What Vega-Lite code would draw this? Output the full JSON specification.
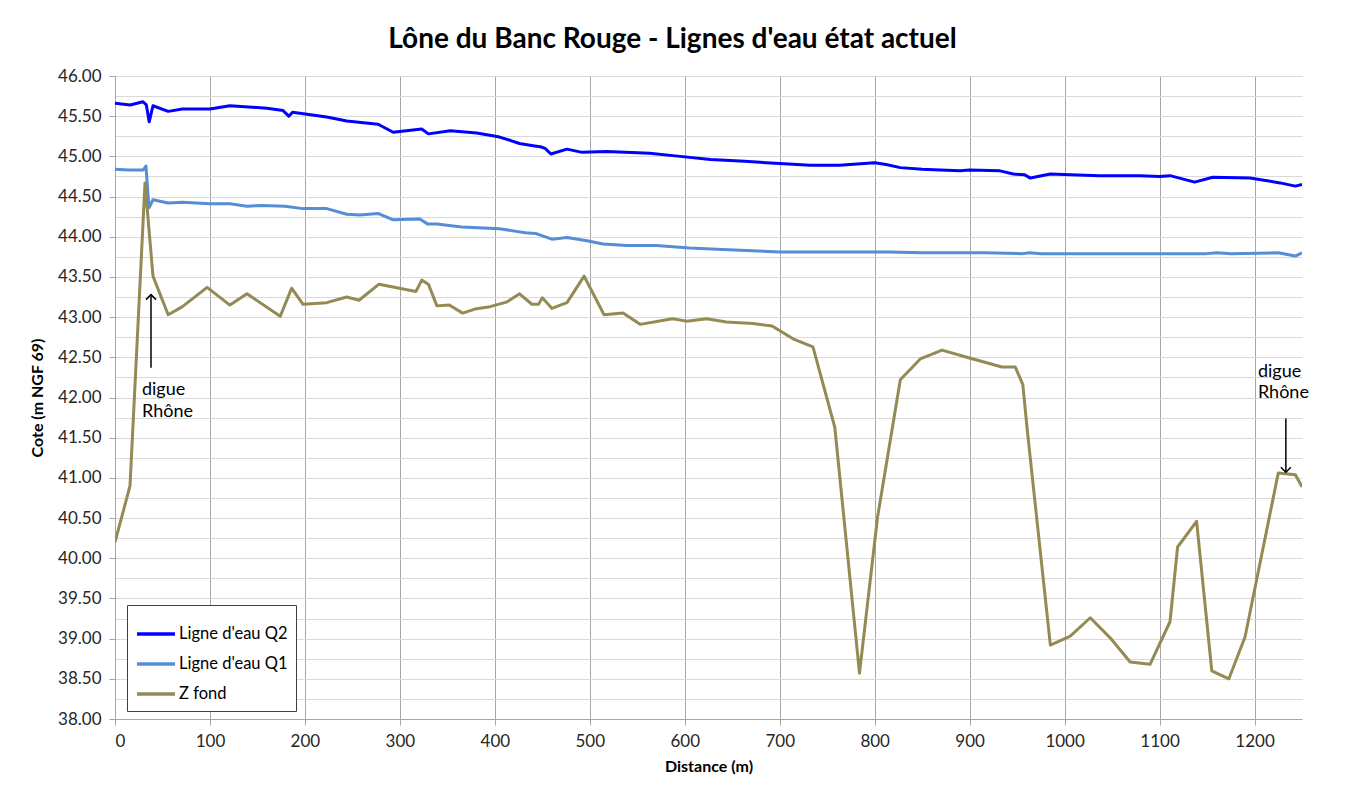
{
  "$schema": "https://vega.github.io/schema/vega-lite/v6.json",
  "width": 1187,
  "height": 643,
  "autosize": {"type": "none"},
  "padding": {"left": 115, "top": 76, "right": 45, "bottom": 75},
  "background": "white",
  "title": {
    "text": "Lône du Banc Rouge - Lignes d'eau état actuel",
    "font": "Lato",
    "fontSize": 28,
    "fontWeight": "bold",
    "color": "#000000",
    "anchor": "middle",
    "dx": -36,
    "offset": 13
  },
  "config": {
    "view": {"stroke": null},
    "font": "Lato",
    "axis": {
      "labelFont": "Lato",
      "labelFontSize": 17,
      "labelColor": "#262626",
      "titleFont": "Lato",
      "titleFontSize": 16,
      "titleFontWeight": "bold",
      "titleColor": "#000000",
      "domainColor": "#a6a6a6",
      "tickColor": "#a6a6a6",
      "tickSize": 6,
      "tickWidth": 1,
      "domainWidth": 1
    },
    "legend": {
      "orient": "none",
      "legendX": 12,
      "legendY": 529,
      "direction": "vertical",
      "strokeColor": "#404040",
      "fillColor": "white",
      "padding": 8,
      "symbolType": "stroke",
      "symbolStrokeWidth": 3.5,
      "symbolSize": 1444,
      "labelFont": "Lato",
      "labelFontSize": 16.5,
      "labelColor": "#000000",
      "labelOffset": 2,
      "rowPadding": 0,
      "titleFontSize": 0
    }
  },
  "datasets": {
    "lines": [
      {"serie": "Ligne d'eau Q2", "d": 0, "z": 45.66},
      {"serie": "Ligne d'eau Q2", "d": 16, "z": 45.64},
      {"serie": "Ligne d'eau Q2", "d": 29.5, "z": 45.68},
      {"serie": "Ligne d'eau Q2", "d": 33, "z": 45.64},
      {"serie": "Ligne d'eau Q2", "d": 36, "z": 45.43},
      {"serie": "Ligne d'eau Q2", "d": 40, "z": 45.63},
      {"serie": "Ligne d'eau Q2", "d": 56, "z": 45.56},
      {"serie": "Ligne d'eau Q2", "d": 71, "z": 45.59},
      {"serie": "Ligne d'eau Q2", "d": 100, "z": 45.59},
      {"serie": "Ligne d'eau Q2", "d": 121, "z": 45.63},
      {"serie": "Ligne d'eau Q2", "d": 160, "z": 45.60},
      {"serie": "Ligne d'eau Q2", "d": 177, "z": 45.57},
      {"serie": "Ligne d'eau Q2", "d": 183, "z": 45.50},
      {"serie": "Ligne d'eau Q2", "d": 187, "z": 45.55},
      {"serie": "Ligne d'eau Q2", "d": 223, "z": 45.49},
      {"serie": "Ligne d'eau Q2", "d": 244, "z": 45.44},
      {"serie": "Ligne d'eau Q2", "d": 277, "z": 45.40},
      {"serie": "Ligne d'eau Q2", "d": 293, "z": 45.30},
      {"serie": "Ligne d'eau Q2", "d": 323, "z": 45.34},
      {"serie": "Ligne d'eau Q2", "d": 330, "z": 45.28},
      {"serie": "Ligne d'eau Q2", "d": 353, "z": 45.32},
      {"serie": "Ligne d'eau Q2", "d": 381, "z": 45.29},
      {"serie": "Ligne d'eau Q2", "d": 405, "z": 45.24},
      {"serie": "Ligne d'eau Q2", "d": 416, "z": 45.20},
      {"serie": "Ligne d'eau Q2", "d": 426, "z": 45.16},
      {"serie": "Ligne d'eau Q2", "d": 442, "z": 45.13},
      {"serie": "Ligne d'eau Q2", "d": 448, "z": 45.12},
      {"serie": "Ligne d'eau Q2", "d": 453, "z": 45.10},
      {"serie": "Ligne d'eau Q2", "d": 459, "z": 45.03},
      {"serie": "Ligne d'eau Q2", "d": 476, "z": 45.09},
      {"serie": "Ligne d'eau Q2", "d": 492, "z": 45.05},
      {"serie": "Ligne d'eau Q2", "d": 518, "z": 45.06},
      {"serie": "Ligne d'eau Q2", "d": 563, "z": 45.04},
      {"serie": "Ligne d'eau Q2", "d": 595, "z": 45.00},
      {"serie": "Ligne d'eau Q2", "d": 627, "z": 44.96},
      {"serie": "Ligne d'eau Q2", "d": 663, "z": 44.94},
      {"serie": "Ligne d'eau Q2", "d": 700, "z": 44.91},
      {"serie": "Ligne d'eau Q2", "d": 732, "z": 44.89},
      {"serie": "Ligne d'eau Q2", "d": 763, "z": 44.89},
      {"serie": "Ligne d'eau Q2", "d": 800, "z": 44.92},
      {"serie": "Ligne d'eau Q2", "d": 812, "z": 44.90},
      {"serie": "Ligne d'eau Q2", "d": 827, "z": 44.86},
      {"serie": "Ligne d'eau Q2", "d": 850, "z": 44.84},
      {"serie": "Ligne d'eau Q2", "d": 869, "z": 44.83},
      {"serie": "Ligne d'eau Q2", "d": 890, "z": 44.82},
      {"serie": "Ligne d'eau Q2", "d": 900, "z": 44.83},
      {"serie": "Ligne d'eau Q2", "d": 932, "z": 44.82},
      {"serie": "Ligne d'eau Q2", "d": 946, "z": 44.78},
      {"serie": "Ligne d'eau Q2", "d": 958, "z": 44.77},
      {"serie": "Ligne d'eau Q2", "d": 964, "z": 44.73},
      {"serie": "Ligne d'eau Q2", "d": 985, "z": 44.78},
      {"serie": "Ligne d'eau Q2", "d": 1006, "z": 44.77},
      {"serie": "Ligne d'eau Q2", "d": 1037, "z": 44.76},
      {"serie": "Ligne d'eau Q2", "d": 1079, "z": 44.76},
      {"serie": "Ligne d'eau Q2", "d": 1100, "z": 44.75},
      {"serie": "Ligne d'eau Q2", "d": 1111, "z": 44.76},
      {"serie": "Ligne d'eau Q2", "d": 1137, "z": 44.68},
      {"serie": "Ligne d'eau Q2", "d": 1156, "z": 44.74},
      {"serie": "Ligne d'eau Q2", "d": 1195, "z": 44.73},
      {"serie": "Ligne d'eau Q2", "d": 1227, "z": 44.67},
      {"serie": "Ligne d'eau Q2", "d": 1243, "z": 44.63},
      {"serie": "Ligne d'eau Q2", "d": 1250, "z": 44.65},

      {"serie": "Ligne d'eau Q1", "d": 0, "z": 44.84},
      {"serie": "Ligne d'eau Q1", "d": 14, "z": 44.83},
      {"serie": "Ligne d'eau Q1", "d": 29.5, "z": 44.83},
      {"serie": "Ligne d'eau Q1", "d": 32.6, "z": 44.88},
      {"serie": "Ligne d'eau Q1", "d": 35.8, "z": 44.36},
      {"serie": "Ligne d'eau Q1", "d": 40, "z": 44.46},
      {"serie": "Ligne d'eau Q1", "d": 56, "z": 44.42},
      {"serie": "Ligne d'eau Q1", "d": 71, "z": 44.43},
      {"serie": "Ligne d'eau Q1", "d": 100, "z": 44.41},
      {"serie": "Ligne d'eau Q1", "d": 121, "z": 44.41},
      {"serie": "Ligne d'eau Q1", "d": 139, "z": 44.38},
      {"serie": "Ligne d'eau Q1", "d": 156, "z": 44.39},
      {"serie": "Ligne d'eau Q1", "d": 179, "z": 44.38},
      {"serie": "Ligne d'eau Q1", "d": 198, "z": 44.35},
      {"serie": "Ligne d'eau Q1", "d": 223, "z": 44.35},
      {"serie": "Ligne d'eau Q1", "d": 244, "z": 44.28},
      {"serie": "Ligne d'eau Q1", "d": 258, "z": 44.27},
      {"serie": "Ligne d'eau Q1", "d": 277, "z": 44.29},
      {"serie": "Ligne d'eau Q1", "d": 293, "z": 44.21},
      {"serie": "Ligne d'eau Q1", "d": 321, "z": 44.22},
      {"serie": "Ligne d'eau Q1", "d": 329, "z": 44.16},
      {"serie": "Ligne d'eau Q1", "d": 339, "z": 44.16},
      {"serie": "Ligne d'eau Q1", "d": 365, "z": 44.12},
      {"serie": "Ligne d'eau Q1", "d": 405, "z": 44.10},
      {"serie": "Ligne d'eau Q1", "d": 421, "z": 44.07},
      {"serie": "Ligne d'eau Q1", "d": 432, "z": 44.05},
      {"serie": "Ligne d'eau Q1", "d": 443, "z": 44.04},
      {"serie": "Ligne d'eau Q1", "d": 448, "z": 44.02},
      {"serie": "Ligne d'eau Q1", "d": 460, "z": 43.97},
      {"serie": "Ligne d'eau Q1", "d": 476, "z": 43.99},
      {"serie": "Ligne d'eau Q1", "d": 497, "z": 43.95},
      {"serie": "Ligne d'eau Q1", "d": 514, "z": 43.91},
      {"serie": "Ligne d'eau Q1", "d": 539, "z": 43.89},
      {"serie": "Ligne d'eau Q1", "d": 570, "z": 43.89},
      {"serie": "Ligne d'eau Q1", "d": 605, "z": 43.86},
      {"serie": "Ligne d'eau Q1", "d": 640, "z": 43.84},
      {"serie": "Ligne d'eau Q1", "d": 700, "z": 43.81},
      {"serie": "Ligne d'eau Q1", "d": 815, "z": 43.81},
      {"serie": "Ligne d'eau Q1", "d": 850, "z": 43.80},
      {"serie": "Ligne d'eau Q1", "d": 915, "z": 43.80},
      {"serie": "Ligne d'eau Q1", "d": 956, "z": 43.79},
      {"serie": "Ligne d'eau Q1", "d": 963, "z": 43.80},
      {"serie": "Ligne d'eau Q1", "d": 975, "z": 43.79},
      {"serie": "Ligne d'eau Q1", "d": 1100, "z": 43.79},
      {"serie": "Ligne d'eau Q1", "d": 1150, "z": 43.79},
      {"serie": "Ligne d'eau Q1", "d": 1160, "z": 43.80},
      {"serie": "Ligne d'eau Q1", "d": 1175, "z": 43.79},
      {"serie": "Ligne d'eau Q1", "d": 1225, "z": 43.80},
      {"serie": "Ligne d'eau Q1", "d": 1243, "z": 43.76},
      {"serie": "Ligne d'eau Q1", "d": 1250, "z": 43.80},

      {"serie": "Z fond", "d": 0, "z": 40.20},
      {"serie": "Z fond", "d": 15.8, "z": 40.90},
      {"serie": "Z fond", "d": 31.6, "z": 44.67},
      {"serie": "Z fond", "d": 40, "z": 43.51},
      {"serie": "Z fond", "d": 56, "z": 43.03},
      {"serie": "Z fond", "d": 71, "z": 43.13},
      {"serie": "Z fond", "d": 97, "z": 43.37},
      {"serie": "Z fond", "d": 121, "z": 43.15},
      {"serie": "Z fond", "d": 139, "z": 43.29},
      {"serie": "Z fond", "d": 174, "z": 43.01},
      {"serie": "Z fond", "d": 186, "z": 43.36},
      {"serie": "Z fond", "d": 198, "z": 43.16},
      {"serie": "Z fond", "d": 223, "z": 43.18},
      {"serie": "Z fond", "d": 244, "z": 43.25},
      {"serie": "Z fond", "d": 257, "z": 43.21},
      {"serie": "Z fond", "d": 278, "z": 43.41},
      {"serie": "Z fond", "d": 317, "z": 43.32},
      {"serie": "Z fond", "d": 323, "z": 43.46},
      {"serie": "Z fond", "d": 330, "z": 43.41},
      {"serie": "Z fond", "d": 339, "z": 43.14},
      {"serie": "Z fond", "d": 352, "z": 43.15},
      {"serie": "Z fond", "d": 366, "z": 43.05},
      {"serie": "Z fond", "d": 379, "z": 43.10},
      {"serie": "Z fond", "d": 395, "z": 43.13},
      {"serie": "Z fond", "d": 413, "z": 43.19},
      {"serie": "Z fond", "d": 426, "z": 43.29},
      {"serie": "Z fond", "d": 439, "z": 43.16},
      {"serie": "Z fond", "d": 446, "z": 43.16},
      {"serie": "Z fond", "d": 450, "z": 43.24},
      {"serie": "Z fond", "d": 460, "z": 43.11},
      {"serie": "Z fond", "d": 476, "z": 43.18},
      {"serie": "Z fond", "d": 494, "z": 43.51},
      {"serie": "Z fond", "d": 515, "z": 43.03},
      {"serie": "Z fond", "d": 535, "z": 43.05},
      {"serie": "Z fond", "d": 553, "z": 42.91},
      {"serie": "Z fond", "d": 587, "z": 42.98},
      {"serie": "Z fond", "d": 602, "z": 42.95},
      {"serie": "Z fond", "d": 623, "z": 42.98},
      {"serie": "Z fond", "d": 644, "z": 42.94},
      {"serie": "Z fond", "d": 672, "z": 42.92},
      {"serie": "Z fond", "d": 692, "z": 42.89},
      {"serie": "Z fond", "d": 714, "z": 42.73},
      {"serie": "Z fond", "d": 735, "z": 42.63},
      {"serie": "Z fond", "d": 758, "z": 41.63},
      {"serie": "Z fond", "d": 784, "z": 38.57},
      {"serie": "Z fond", "d": 803, "z": 40.51},
      {"serie": "Z fond", "d": 827, "z": 42.22},
      {"serie": "Z fond", "d": 848, "z": 42.48},
      {"serie": "Z fond", "d": 871, "z": 42.59},
      {"serie": "Z fond", "d": 897, "z": 42.50},
      {"serie": "Z fond", "d": 934, "z": 42.38},
      {"serie": "Z fond", "d": 948, "z": 42.38},
      {"serie": "Z fond", "d": 956, "z": 42.16},
      {"serie": "Z fond", "d": 961, "z": 41.56},
      {"serie": "Z fond", "d": 985, "z": 38.92},
      {"serie": "Z fond", "d": 1006, "z": 39.03},
      {"serie": "Z fond", "d": 1027, "z": 39.26},
      {"serie": "Z fond", "d": 1048, "z": 39.01},
      {"serie": "Z fond", "d": 1069, "z": 38.71},
      {"serie": "Z fond", "d": 1090, "z": 38.68},
      {"serie": "Z fond", "d": 1111, "z": 39.21},
      {"serie": "Z fond", "d": 1119, "z": 40.14},
      {"serie": "Z fond", "d": 1139, "z": 40.46},
      {"serie": "Z fond", "d": 1155, "z": 38.60},
      {"serie": "Z fond", "d": 1173, "z": 38.50},
      {"serie": "Z fond", "d": 1190, "z": 39.02},
      {"serie": "Z fond", "d": 1225, "z": 41.06},
      {"serie": "Z fond", "d": 1243, "z": 41.04},
      {"serie": "Z fond", "d": 1250, "z": 40.89}
    ],
    "arrows": [
      {"d": 37.9, "z": 42.37, "z2": 43.28, "dir": "up"},
      {"d": 1233, "z": 41.74, "z2": 41.07, "dir": "down"}
    ],
    "labels": [
      {"d": 28.4, "z": 42.09, "label": "digue"},
      {"d": 28.4, "z": 41.82, "label": "Rhône"},
      {"d": 1203.6, "z": 42.32, "label": "digue"},
      {"d": 1203.6, "z": 42.06, "label": "Rhône"}
    ]
  },
  "encoding": {
    "x": {
      "field": "d",
      "type": "quantitative",
      "scale": {"domain": [0, 1250], "nice": false, "zero": false},
      "axis": {
        "title": "Distance (m)",
        "values": [0, 100, 200, 300, 400, 500, 600, 700, 800, 900, 1000, 1100, 1200],
        "format": "d",
        "grid": true,
        "gridColor": "#a6a6a6",
        "gridWidth": 1,
        "labelPadding": 8,
        "titlePadding": 9
      }
    },
    "y": {
      "field": "z",
      "type": "quantitative",
      "scale": {"domain": [38, 46], "nice": false, "zero": false},
      "axis": {
        "title": "Cote (m NGF 69)",
        "values": [38, 38.25, 38.5, 38.75, 39, 39.25, 39.5, 39.75, 40, 40.25, 40.5, 40.75, 41, 41.25, 41.5, 41.75, 42, 42.25, 42.5, 42.75, 43, 43.25, 43.5, 43.75, 44, 44.25, 44.5, 44.75, 45, 45.25, 45.5, 45.75, 46],
        "labelExpr": "datum.value % 0.5 === 0 ? format(datum.value, '.2f') : ''",
        "grid": true,
        "gridColor": "#d9d9d9",
        "gridWidth": 1,
        "tickOpacity": {"condition": {"test": "datum.value % 0.5 !== 0", "value": 0}, "value": 1},
        "labelPadding": 8,
        "titlePadding": 12
      }
    }
  },
  "layer": [
    {
      "data": {"name": "lines"},
      "mark": {"type": "line", "strokeWidth": 3, "strokeJoin": "round", "clip": true},
      "encoding": {
        "color": {
          "field": "serie",
          "type": "nominal",
          "scale": {
            "domain": ["Ligne d'eau Q2", "Ligne d'eau Q1", "Z fond"],
            "range": ["#0000ff", "#558ed5", "#948a54"]
          },
          "legend": {"title": null}
        }
      }
    },
    {
      "data": {"name": "arrows"},
      "mark": {"type": "rule", "color": "#000000", "strokeWidth": 1.5},
      "encoding": {
        "y2": {"field": "z2"}
      }
    },
    {
      "data": {"name": "arrows"},
      "mark": {"type": "point", "filled": false, "color": "#000000", "strokeWidth": 1.5, "opacity": 1},
      "encoding": {
        "y": {"field": "z2", "type": "quantitative"},
        "shape": {
          "field": "dir",
          "type": "nominal",
          "scale": {"domain": ["up", "down"], "range": ["M-1,1L0,0L1,1", "M-1,-1L0,0L1,-1"]},
          "legend": null
        },
        "size": {"value": 100}
      }
    },
    {
      "data": {"name": "labels"},
      "mark": {"type": "text", "align": "left", "baseline": "middle", "font": "Lato", "fontSize": 18, "color": "#000000"},
      "encoding": {
        "text": {"field": "label"}
      }
    }
  ]
}
